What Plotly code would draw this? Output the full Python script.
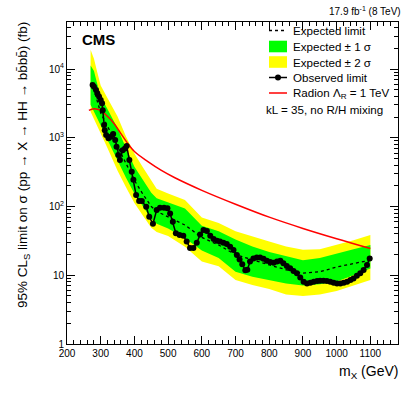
import plotly.graph_objects as go

# ---------------- data ----------------
obs_mass = [276, 280, 286, 290, 295, 300, 304, 306, 310, 312, 316, 323, 330, 337, 343, 347, 352, 357,
            365, 372, 377, 385, 392, 397, 405, 414, 422, 435, 444, 455, 466, 476, 488, 498, 506, 514,
            523, 534, 545, 555, 565, 575, 585, 595, 605, 615, 625, 635, 645, 654, 664, 674, 684, 694,
            704, 712, 720, 729, 735, 743, 753, 763, 773, 783, 793, 803, 813, 823, 833, 842, 852, 862,
            872, 882, 892, 902, 912, 922, 932, 942, 951, 961, 971, 981, 991, 1001, 1011, 1021, 1031,
            1041, 1050, 1060, 1070, 1080, 1090, 1098]
obs_limit = [5850, 5500, 4950, 4430, 3970, 3540, 3170, 2520, 1530, 1290, 1100, 980, 1035, 1130, 930, 740, 560, 475,
             660, 700, 760, 475, 320, 245, 147, 120, 120, 99, 71, 56, 89, 96, 96, 94, 79, 60,
             41, 38.5, 37.6, 31, 25, 25, 29.7, 39, 45.6, 44, 37.6, 33.8, 31.8, 30.9, 29.8, 28.5, 26, 23.3,
             19.7, 17.0, 14.5, 11.8, 12.0, 15.8, 17.6, 18.2, 18.2, 17.4, 16.3, 15.6, 15.2, 15.8, 16.2, 14.9, 13.6, 12.6,
             11.5, 10.7, 9.3, 8.05, 7.6, 7.8, 8.05, 8.25, 8.3, 8.3, 8.25, 8.05, 7.8, 7.6, 7.6, 7.8, 8.05,
             8.5, 9.0, 9.8, 10.7, 11.9, 14.1, 17.6]

exp_mass = [270, 280, 290, 300, 320, 350, 375, 400, 425, 450, 466, 500, 550, 600, 650, 700, 750, 800,
            850, 900, 950, 1000, 1050, 1100]
# log10 values
exp_log = [3.80, 3.70, 3.53, 3.36, 3.17, 2.88, 2.62, 2.38, 2.18, 2.00, 1.93, 1.85, 1.73, 1.55, 1.44, 1.30,
           1.22, 1.15, 1.08, 1.03, 1.05, 1.12, 1.17, 1.22]
p1_log = [4.05, 3.97, 3.78, 3.60, 3.42, 3.14, 2.85, 2.58, 2.39, 2.20, 2.12, 2.06, 1.97, 1.72, 1.64, 1.52,
          1.42, 1.34, 1.28, 1.22, 1.25, 1.32, 1.38, 1.44]
p2_log = [4.28, 4.15, 3.95, 3.76, 3.58, 3.31, 3.02, 2.77, 2.57, 2.38, 2.26, 2.19, 2.095, 1.84, 1.76, 1.64,
          1.56, 1.49, 1.42, 1.37, 1.38, 1.44, 1.51, 1.585]
m1_log = [3.48, 3.40, 3.28, 3.18, 2.97, 2.66, 2.42, 2.19, 2.00, 1.82, 1.75, 1.68, 1.54, 1.36, 1.25, 1.05,
          0.98, 0.93, 0.88, 0.85, 0.87, 0.91, 1.00, 1.10]
m2_log = [3.38, 3.28, 3.17, 3.06, 2.85, 2.52, 2.28, 2.05, 1.87, 1.69, 1.63, 1.57, 1.415, 1.20, 1.13, 0.93,
          0.86, 0.80, 0.72, 0.70, 0.72, 0.77, 0.85, 0.93]

radion_mass = [265, 280, 300, 320, 340, 360, 380, 400, 440, 480, 520, 600, 700, 800, 900, 1000, 1100]
radion_xs = [2500, 2650, 2500, 2050, 1600, 1150, 830, 630, 450, 335, 262, 172, 108, 70, 48, 34, 24.5]

x_tick_vals = [200, 300, 400, 500, 600, 700, 800, 900, 1000, 1100]
y_tick_vals = [1, 10, 100, 1000, 10000]
y_tick_text = ["1", "10", "10<sup>2</sup>", "10<sup>3</sup>", "10<sup>4</sup>"]

legend_labels = ["Expected limit", "Expected \u00b1 1 \u03c3", "Expected \u00b1 2 \u03c3",
                 "Observed limit", "Radion \u039b<sub>R</sub> = 1 TeV"]
legend_note = "kL = 35, no R/H mixing"

# ---------------- figure ----------------
FONT = "Liberation Sans, Arial, sans-serif"
W, H = 407, 396
L, R, T, B = 67, 9, 22, 52
PW, PH = W - L - R, H - T - B


def px(x):   # window pixel -> paper
    return (x - L) / PW


def py(y):
    return (H - B - y) / PH


exp_v = [10 ** v for v in exp_log]
p1 = [10 ** v for v in p1_log]
p2 = [10 ** v for v in p2_log]
m1 = [10 ** v for v in m1_log]
m2 = [10 ** v for v in m2_log]

fig = go.Figure()
fig.add_trace(go.Scatter(x=exp_mass + exp_mass[::-1], y=p2 + m2[::-1], fill="toself",
                         fillcolor="#ffff00", line=dict(width=0), mode="lines",
                         hoverinfo="skip", showlegend=False))
fig.add_trace(go.Scatter(x=exp_mass + exp_mass[::-1], y=p1 + m1[::-1], fill="toself",
                         fillcolor="#00ff00", line=dict(width=0), mode="lines",
                         hoverinfo="skip", showlegend=False))
fig.add_trace(go.Scatter(x=exp_mass, y=exp_v, mode="lines",
                         line=dict(color="black", width=1.3, dash="dot"), showlegend=False))
fig.add_trace(go.Scatter(x=radion_mass, y=radion_xs, mode="lines", line_shape="spline",
                         line=dict(color="#ff0000", width=1.5), showlegend=False))
fig.add_trace(go.Scatter(x=obs_mass, y=obs_limit, mode="lines+markers",
                         line=dict(color="black", width=1.5),
                         marker=dict(color="black", size=6), showlegend=False))

axis_common = dict(showline=True, linecolor="black", linewidth=1, mirror="ticks",
                   ticks="inside", tickcolor="black", showgrid=False, zeroline=False,
                   tickfont=dict(family=FONT, size=10, color="black"))

fig.update_xaxes(range=[200, 1182], tickmode="array", tickvals=x_tick_vals, ticklen=8,
                 minor=dict(ticks="inside", dtick=20, tick0=200, ticklen=4, tickcolor="black"),
                 **axis_common)
minor_y = [m * 10 ** d for d in range(0, 5) for m in range(2, 10)]
fig.update_yaxes(type="log", range=[0, 4.684], tickmode="array", tickvals=y_tick_vals,
                 ticktext=y_tick_text, ticklen=8,
                 minor=dict(ticks="inside", tickmode="array", tickvals=minor_y, ticklen=4,
                            tickcolor="black"),
                 **axis_common)

anns = []
anns.append(dict(x=px(403), y=py(11), xref="paper", yref="paper", xanchor="right", yanchor="middle",
                 text="17.9 fb<sup>-1</sup> (8 TeV)", showarrow=False,
                 font=dict(family=FONT, size=10, color="black")))
anns.append(dict(x=px(80), y=py(39), xref="paper", yref="paper", xanchor="left", yanchor="middle",
                 text="<b>CMS</b>", showarrow=False, font=dict(family=FONT, size=15, color="black")))
anns.append(dict(x=px(400), y=py(372), xref="paper", yref="paper", xanchor="right", yanchor="middle",
                 text="m<sub>X</sub> (GeV)", showarrow=False,
                 font=dict(family=FONT, size=14, color="black")))
anns.append(dict(x=px(23), y=py(20), xref="paper", yref="paper", xanchor="center", yanchor="top",
                 textangle=-90,
                 text="95% CL<sub>S</sub> limit on \u03c3 (pp \u2192 X \u2192 HH \u2192 bb\u0304bb\u0304) (fb)",
                 showarrow=False, font=dict(family=FONT, size=13.5, color="black")))

leg_y = [30.5, 46.5, 62, 77.5, 93]
x0, x1, xt = 269, 287, 291
for lab, yy in zip(legend_labels, leg_y):
    anns.append(dict(x=px(xt), y=py(yy), xref="paper", yref="paper", xanchor="left", yanchor="middle",
                     text=lab, showarrow=False, font=dict(family=FONT, size=11.6, color="black")))
anns.append(dict(x=px(264), y=py(110), xref="paper", yref="paper", xanchor="left", yanchor="middle",
                 text=legend_note, showarrow=False, font=dict(family=FONT, size=11.6, color="black")))

shapes = [
    dict(type="line", xref="paper", yref="paper", x0=px(x0), x1=px(x1), y0=py(leg_y[0]), y1=py(leg_y[0]),
         line=dict(color="black", width=1.3, dash="dot")),
    dict(type="rect", xref="paper", yref="paper", x0=px(x0), x1=px(x1), y0=py(leg_y[1] - 5.8),
         y1=py(leg_y[1] + 5.8), fillcolor="#00ff00", line=dict(width=0)),
    dict(type="rect", xref="paper", yref="paper", x0=px(x0), x1=px(x1), y0=py(leg_y[2] - 5.8),
         y1=py(leg_y[2] + 5.8), fillcolor="#ffff00", line=dict(width=0)),
    dict(type="line", xref="paper", yref="paper", x0=px(x0), x1=px(x1), y0=py(leg_y[3]), y1=py(leg_y[3]),
         line=dict(color="black", width=1.5)),
    dict(type="circle", xref="paper", yref="paper", x0=px(278 - 3), x1=px(278 + 3), y0=py(leg_y[3] - 3),
         y1=py(leg_y[3] + 3), fillcolor="black", line=dict(width=0)),
    dict(type="line", xref="paper", yref="paper", x0=px(x0), x1=px(x1), y0=py(leg_y[4]), y1=py(leg_y[4]),
         line=dict(color="#ff0000", width=1.5)),
]

fig.update_layout(width=W, height=H, margin=dict(l=L, r=R, t=T, b=B, pad=0),
                  paper_bgcolor="white", plot_bgcolor="white", showlegend=False,
                  hovermode=False, annotations=anns, shapes=shapes,
                  font=dict(family=FONT, color="black"))

fig.write_html("out.html", config={"displayModeBar": False, "staticPlot": True},
               post_script="document.body.style.margin='0';")
